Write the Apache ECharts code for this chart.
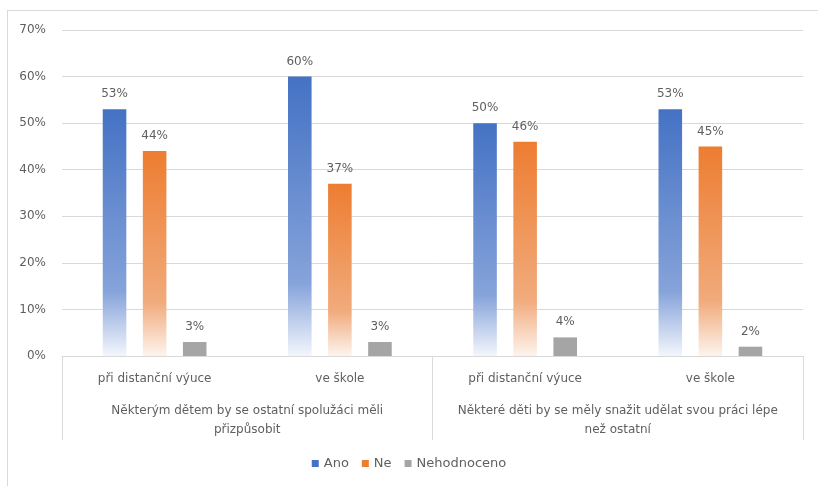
<!DOCTYPE html>
<html>
<head>
<meta charset="utf-8">
<script src="https://cdn.jsdelivr.net/npm/echarts@6/dist/echarts.min.js"></script>
<style>
  html, body { margin: 0; padding: 0; background: #fff; }
  #frame { position: absolute; left: 7px; top: 10px; width: 830px; height: 500px; border: 1px solid #d9d9d9; box-sizing: border-box; }
  #chart { position: absolute; left: 0; top: 0; width: 818px; height: 486px; }
</style>
</head>
<body>
<div id="frame"></div>
<div id="chart"></div>
<script>
// Sub-categories (inner axis level)
const subCategories = ['při distanční výuce', 've škole', 'při distanční výuce', 've škole'];
// Statements (outer axis level), each spanning two sub-categories
const groups = [
  'Některým dětem by se ostatní spolužáci měli\npřizpůsobit',
  'Některé děti by se měly snažit udělat svou práci lépe\nnež ostatní'
];
const seriesNames = ['Ano', 'Ne', 'Nehodnoceno'];
const ano = [53, 60, 50, 53];
const ne = [44, 37, 46, 45];
const nehodnoceno = [3, 3, 4, 2];
const yTicks = { min: 0, max: 70, interval: 10 };

const textColor = '#5f5f5f';
const lineColor = '#d9d9d9';
const font = 'DejaVu Sans';

function fade(top, mid, bottom) {
  return new echarts.graphic.LinearGradient(0, 0, 0, 1, [
    { offset: 0, color: top },
    { offset: 0.74, color: mid },
    { offset: 1, color: bottom }
  ]);
}

const colors = ['#4472C4', '#ED7D31', '#A5A5A5'];
const fills = [
  fade('#4472C4', '#86a3da', '#f3f6fc'),
  fade('#ED7D31', '#f1ab7c', '#fdf4ee'),
  '#A5A5A5'
];

const values = [ano, ne, nehodnoceno];

const chart = echarts.init(document.getElementById('chart'), null, { renderer: 'canvas' });
chart.setOption({
  animation: false,
  textStyle: { fontFamily: font },
  grid: { left: 62, right: 15, top: 30, bottom: 130, containLabel: false },
  legend: {
    bottom: 11,
    left: 'center',
    itemWidth: 7,
    itemHeight: 7,
    itemGap: 13,
    icon: 'rect',
    textStyle: { color: textColor, fontSize: 13, fontFamily: font },
    data: seriesNames.map((n, i) => ({ name: n, itemStyle: { color: colors[i] } }))
  },
  xAxis: [
    {
      type: 'category',
      data: subCategories,
      position: 'bottom',
      axisLine: { show: true, lineStyle: { color: lineColor, width: 1 } },
      axisTick: { show: false },
      axisLabel: { color: textColor, fontSize: 12, margin: 16, lineHeight: 14, fontFamily: font, interval: 0 }
    },
    {
      type: 'category',
      data: groups,
      position: 'bottom',
      gridIndex: 0,
      axisLine: { show: false },
      axisTick: { show: true, length: 84, inside: false, lineStyle: { color: lineColor, width: 1 } },
      axisLabel: { color: textColor, fontSize: 12, margin: 45, lineHeight: 19, fontFamily: font, align: 'center', interval: 0 }
    }
  ],
  yAxis: {
    type: 'value',
    min: yTicks.min,
    max: yTicks.max,
    interval: yTicks.interval,
    axisLine: { show: false },
    axisTick: { show: false },
    splitLine: { lineStyle: { color: lineColor, width: 1 } },
    axisLabel: { color: textColor, fontSize: 12, margin: 16, formatter: '{value}%', fontFamily: font }
  },
  series: seriesNames.map((name, i) => ({
    name: name,
    type: 'bar',
    xAxisIndex: 0,
    data: values[i],
    barGap: '70%',
    barCategoryGap: '44%',
    itemStyle: { color: fills[i] },
    label: {
      show: true,
      position: 'top',
      distance: 9,
      color: textColor,
      fontSize: 12,
      fontFamily: font,
      formatter: '{c}%'
    }
  }))
});
</script>
</body>
</html>
